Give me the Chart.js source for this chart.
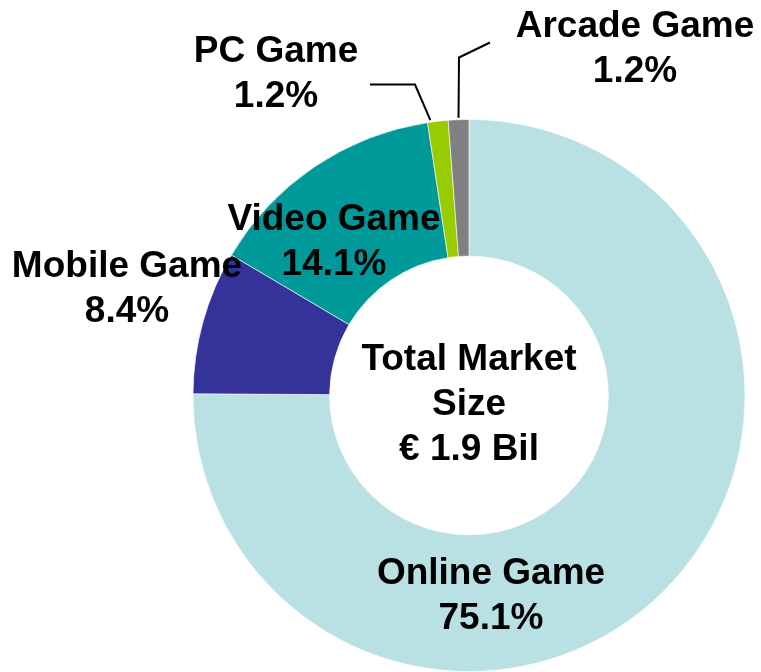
<!DOCTYPE html>
<html>
<head>
<meta charset="utf-8">
<script src="https://cdn.jsdelivr.net/npm/chart.js@4"></script>
<style>
  html, body { margin: 0; padding: 0; background: #fff; }
  #wrap { width: 761px; height: 672px; position: relative; }
</style>
</head>
<body>
<div id="wrap"><canvas id="thisChart"></canvas></div>
<script>
// data
const categories = ["Online Game", "Mobile Game", "Video Game", "PC Game", "Arcade Game"]
const shares = [75.1, 8.4, 14.1, 1.2, 1.2]
const colors = ["#b9e0e3", "#333399", "#009999", "#99cc00", "#808080"]
const centerText = ["Total Market", "Size", "\u20ac 1.9 Bil"]

// label placement, offsets from the doughnut centre (px)
const labelOffsets = [
  { dx: 22, dy: 188 },
  { dx: -342, dy: -119 },
  { dx: -135, dy: -166 },
  { dx: -193, dy: -334 },
  { dx: 166, dy: -359 },
]
// leader lines for the thin slices: [index, elbow points relative to centre]
const leaders = [
  { index: 3, frac: 0.15, pts: [{ dx: -54, dy: -311 }, { dx: -99, dy: -311 }] },
  { index: 4, frac: 0.5, pts: [{ dx: -10, dy: -338 }, { dx: 21, dy: -353 }] },
]

const FONT = "bold 37px 'Liberation Sans', Arial, sans-serif"
const LINE = 45

const labelPlugin = {
  id: "labels",
  afterDraw(chart) {
    const ctx = chart.ctx
    const meta = chart.getDatasetMeta(0)
    const arc0 = meta.data[0]
    const cx = arc0.x, cy = arc0.y
    ctx.save()
    ctx.fillStyle = "#000"
    ctx.font = FONT
    ctx.textAlign = "center"
    ctx.textBaseline = "alphabetic"

    // leader lines
    ctx.strokeStyle = "#000"
    ctx.lineWidth = 2
    leaders.forEach(l => {
      const a = meta.data[l.index]
      const ang = a.startAngle + (a.endAngle - a.startAngle) * l.frac
      const r = a.outerRadius + 2
      ctx.beginPath()
      ctx.moveTo(cx + Math.cos(ang) * r, cy + Math.sin(ang) * r)
      l.pts.forEach(p => ctx.lineTo(cx + p.dx, cy + p.dy))
      ctx.stroke()
    })

    // slice labels
    categories.forEach((c, i) => {
      const o = labelOffsets[i]
      ctx.fillText(c, cx + o.dx, cy + o.dy)
      ctx.fillText(shares[i].toFixed(1) + "%", cx + o.dx, cy + o.dy + LINE)
    })

    // centre text
    centerText.forEach((t, i) => {
      ctx.fillText(t, cx, cy - 26 + i * LINE)
    })
    ctx.restore()
  }
}

//config
const config = {
  type: "doughnut",
  data: {
    labels: categories,
    datasets: [{
      data: shares,
      backgroundColor: colors,
      borderColor: "rgba(255,255,255,0.6)",
      borderWidth: 1,
    }],
  },
  options: {
    responsive: true,
    maintainAspectRatio: false,
    animation: false,
    cutout: "50.5%",
    layout: { padding: { left: 192, right: 15, top: 119, bottom: 0 } },
    plugins: {
      legend: { display: false },
      tooltip: { enabled: false },
    },
  },
  plugins: [labelPlugin],
}

const donut = new Chart(document.getElementById("thisChart").getContext("2d"), config)
</script>
</body>
</html>
